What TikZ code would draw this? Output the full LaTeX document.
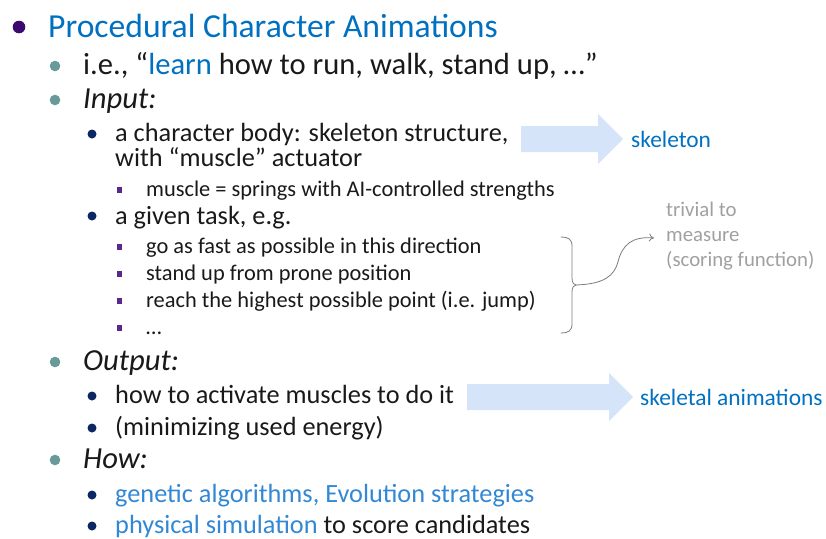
\documentclass[tikz,border=0pt]{standalone}
\usepackage{fontspec}
\setmainfont{Carlito}
\usetikzlibrary{arrows.meta}
\definecolor{txt}{RGB}{25,25,25}
\definecolor{ttl}{RGB}{0,112,192}
\definecolor{lblue}{RGB}{50,136,212}
\definecolor{dotp}{RGB}{58,10,110}
\definecolor{dott}{RGB}{104,154,154}
\definecolor{dotn}{RGB}{12,40,100}
\definecolor{sqp}{RGB}{90,40,140}
\definecolor{arr}{RGB}{214,228,250}
\definecolor{grayt}{RGB}{160,160,160}
\definecolor{grayl}{RGB}{125,125,125}
\newcommand\fsTitle{\fontsize{33.6}{40}\selectfont}
\newcommand\fsTwo{\fontsize{30.6}{36}\selectfont}
\newcommand\fsThree{\fontsize{26.3}{31}\selectfont}
\newcommand\fsFour{\fontsize{22.4}{27}\selectfont}
\newcommand\fsSide{\fontsize{23.4}{28}\selectfont}
\newcommand\fsGray{\fontsize{20.8}{25}\selectfont}
\tikzset{
  tl/.style={anchor=base west, inner sep=0pt, text=txt},
  dotA/.style={fill=dotp, draw=none},
  dotB/.style={fill=dott, draw=none},
  dotC/.style={fill=dotn, draw=none},
  sqr/.style={fill=sqp, draw=none},
  bigarrow/.style={fill=arr, draw=none},
  graytext/.style={anchor=base west, inner sep=0pt, text=grayt, font=\fsGray},
}
\begin{document}
\begin{tikzpicture}[x=1pt,y=-1pt]
\useasboundingbox (0,0) rectangle (826,538);
% bullets
\fill[dotA] (19,27) circle (6.3);
\foreach \yy in {66,100,362,460} \fill[dotB] (55,\yy) circle (5.3);
\foreach \yy in {134,216,396,428,495,526} \fill[dotC] (92,\yy) circle (4.5);
\foreach \yy in {190,247,274,301,328} \fill[sqr] (117,\yy-2.6) rectangle ++(5.2,5.2);
% texts
\node[tl, text=ttl, font=\fsTitle] (title) at (48,37) {Procedural Character Animations};
\node[tl, font=\fsTwo] (ie) at (83,74) {i.e., “\textcolor{ttl}{learn} how to run, walk, stand up, …”};
\node[tl, font=\fsTwo\itshape] (input) at (83,108) {Input:};
\node[tl, font=\fsThree] (body) at (115,141) {a character body: skeleton structure,};
\node[tl, font=\fsThree] (with) at (115,166) {with “muscle” actuator};
\node[tl, font=\fsFour] (muscle) at (146,196) {muscle = springs with AI-controlled strengths};
\node[tl, font=\fsThree] (task) at (115,224) {a given task, e.g.};
\node[tl, font=\fsFour] (fast) at (146,253) {go as fast as possible in this direction};
\node[tl, font=\fsFour] (stand) at (146,280) {stand up from prone position};
\node[tl, font=\fsFour] (reach) at (146,307) {reach the highest possible point (i.e. jump)};
\node[tl, font=\fsFour] (dots) at (146,334) {…};
\node[tl, font=\fsTwo\itshape] (output) at (83,370) {Output:};
\node[tl, font=\fsThree] (activate) at (115,403) {how to activate muscles to do it};
\node[tl, font=\fsThree] (minim) at (115,435) {(minimizing used energy)};
\node[tl, font=\fsTwo\itshape] (how) at (83,468) {How:};
\node[tl, font=\fsThree, text=lblue] (genetic) at (115,502) {genetic algorithms, Evolution strategies};
\node[tl, font=\fsThree] (phys) at (115,533) {\textcolor{lblue}{physical simulation} to score candidates};
% big arrows
\fill[bigarrow] (521,126) -- (598,126) -- (598,114) -- (623,139) -- (598,164) -- (598,152) -- (521,152) -- cycle;
\node[tl, text=ttl, font=\fsSide] (skel) at (631,147) {skeleton};
\fill[bigarrow] (467,384) -- (609,384) -- (609,373) -- (633,397) -- (609,421) -- (609,410) -- (467,410) -- cycle;
\node[tl, text=ttl, font=\fsSide] (skanim) at (640,405) {skeletal animations};
% side gray text
\node[graytext] (triv) at (666,216) {trivial to};
\node[graytext] (meas) at (666,241) {measure};
\node[graytext] (scor) at (666,266) {(scoring function)};
% brace
\coordinate (bcusp) at (576,285);
\draw[grayl, line width=0.8pt, line cap=round]
  (561,237) .. controls (568,237) and (572,239) .. (572,246)
  -- (572,278) .. controls (572,283) and (574,285) .. (bcusp)
  .. controls (574,285) and (572,287) .. (572,292)
  -- (572,324) .. controls (572,331) and (568,333) .. (561,333);
\coordinate (atip) at ([xshift=-12pt,yshift=-2pt]meas.west);
\coordinate (amid) at (618,262);
\draw[grayl, line width=0.8pt, -{To[length=5pt,width=8pt]}]
  (bcusp) .. controls (604,284) and (614,276) .. (amid)
  .. controls (622,245) and (632,236) .. (atip);
\end{tikzpicture}
\end{document}
